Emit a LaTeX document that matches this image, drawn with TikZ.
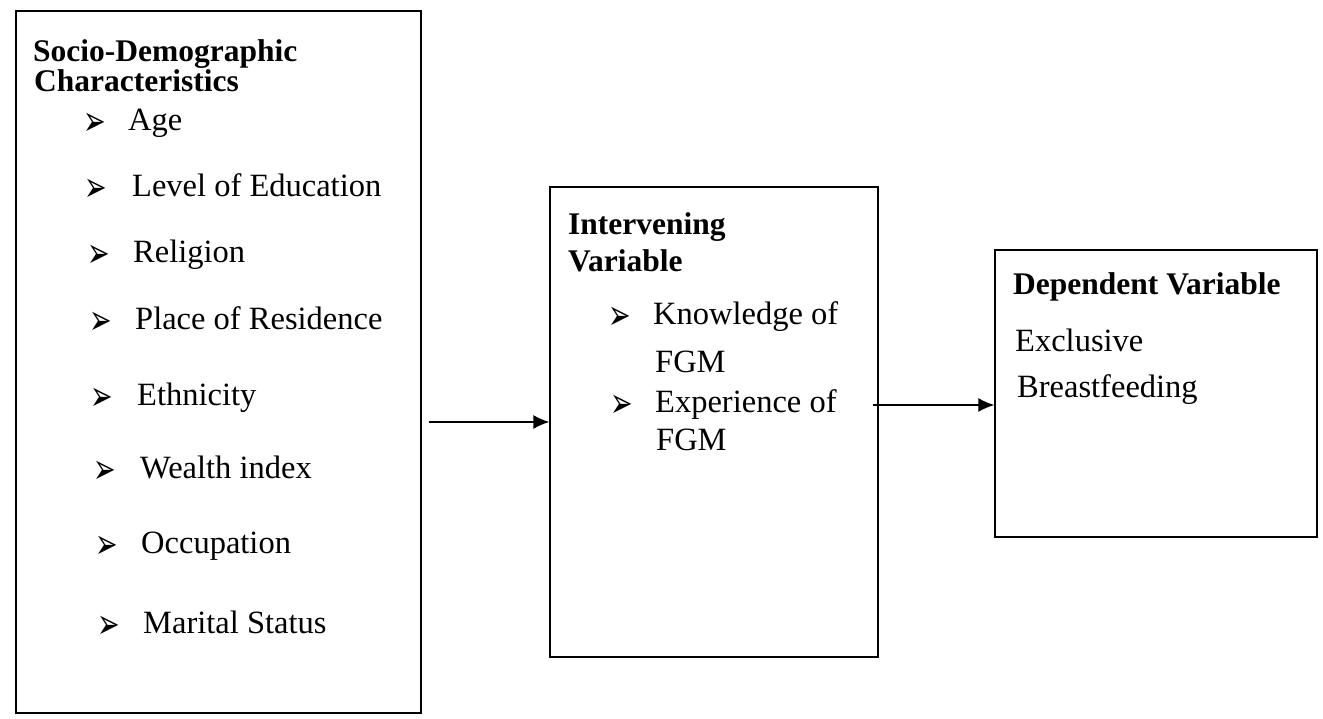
\documentclass[tikz,border=0pt]{standalone}
\usepackage{fontspec}
\setmainfont{Liberation Serif}
\newfontfamily\symfont{DejaVu Sans}
\usetikzlibrary{arrows.meta,calc}
\newcommand{\arrbullet}{\scalebox{1}[1.55]{➢}}
\begin{document}
\begin{tikzpicture}[x=1pt,y=-1pt,
  box/.style={draw, line width=1.4pt, inner sep=0pt},
  txt/.style={anchor=base west, inner sep=0pt, font=\fontsize{32.5}{38}\selectfont},
  hd/.style={anchor=base west, inner sep=0pt, font=\fontsize{31.5}{37}\selectfont\bfseries},
  bul/.style={anchor=base west, inner sep=0pt, yshift=-5pt, font=\symfont\fontsize{27}{30}\selectfont},
  arr/.style={-{Latex[length=16pt,width=14pt]}, line width=1.4pt}]
\useasboundingbox (0,0) rectangle (1323,719);
% boxes
\node[box, minimum width=405pt, minimum height=702pt] (b1) at (218.5,362) {};
\node[box, minimum width=328pt, minimum height=470pt] (b2) at (714,422) {};
\node[box, minimum width=322pt, minimum height=287pt] (b3) at (1156,393.5) {};
% box 1
\node[hd] (h1a) at (33,62) {Socio-Demographic};
\node[hd] (h1b) at (34,92) {Characteristics};
\foreach \bx/\tx/\y/\s [count=\i] in {
  83/128/131/Age,
  84/132/197/Level of Education,
  87/133/263/Religion,
  89/135/330/Place of Residence,
  90/137/405/Ethnicity,
  93/140/478/Wealth index,
  95/141/553/Occupation,
  97/143/633/Marital Status}
{
  \node[bul] (bb\i) at (\bx,\y) {\arrbullet};
  \node[txt] (it\i) at (\tx,\y) {\s};
}
% box 2
\node[hd] (h2a) at (568,235) {Intervening};
\node[hd] (h2b) at (568,272) {Variable};
\node[bul] (k1) at (608,325) {\arrbullet};
\node[txt] (k2) at (653,325) {Knowledge of};
\node[txt] (k3) at (655,372) {FGM};
\node[bul] (e1) at (610,412) {\arrbullet};
\node[txt] (e2) at (655,412) {Experience of};
\node[txt] (e3) at (656,450) {FGM};
% box 3
\node[hd] (h3) at (1013,295) {Dependent Variable};
\node[txt] (x1) at (1015,352) {Exclusive};
\node[txt] (x2) at (1017,397) {Breastfeeding};
% arrows
\draw[arr] ([xshift=7pt]b1.east |- b2.west) -- (b2.west);
\draw[arr] ([yshift=-11.5pt,xshift=-6pt]b2.east |- b3.west) -- ([yshift=-11.5pt]b3.west);
\end{tikzpicture}
\end{document}
